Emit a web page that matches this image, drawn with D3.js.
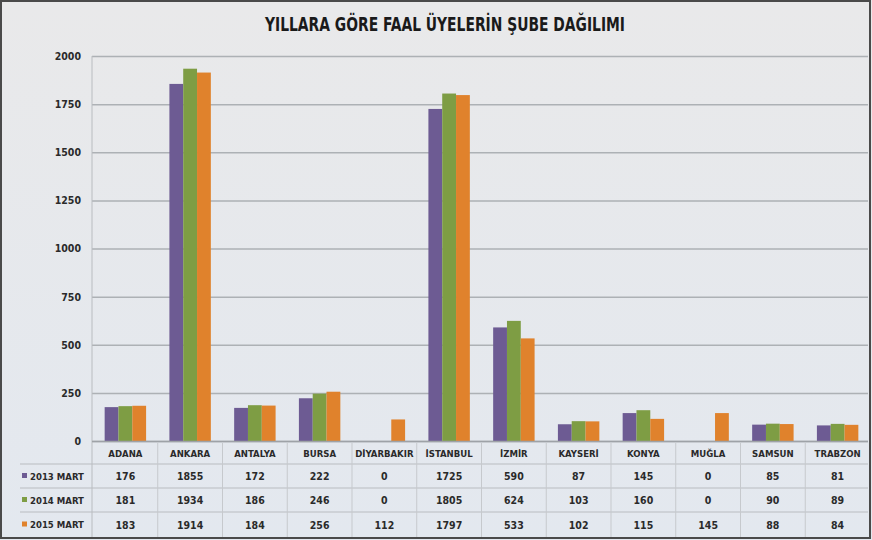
<!DOCTYPE html>
<html><head><meta charset="utf-8">
<script src="https://cdn.jsdelivr.net/npm/d3@7/dist/d3.min.js"></script>
<style>
html,body{margin:0;padding:0;background:#fff;}
svg{display:block;}
text{font-family:"Liberation Sans Narrow","DejaVu Sans Condensed","Roboto Condensed",sans-serif;}
</style></head><body>
<svg id="c" width="872" height="540"></svg>
<script>
const title = "YILLARA GÖRE FAAL ÜYELERİN ŞUBE DAĞILIMI";
const categories = ["ADANA","ANKARA","ANTALYA","BURSA","DİYARBAKIR","İSTANBUL","İZMİR","KAYSERİ","KONYA","MUĞLA","SAMSUN","TRABZON"];
const seriesNames = ["2013 MART","2014 MART","2015 MART"];
const s2013 = [176,1855,172,222,0,1725,590,87,145,0,85,81];
const s2014 = [181,1934,186,246,0,1805,624,103,160,0,90,89];
const s2015 = [183,1914,184,256,112,1797,533,102,115,145,88,84];
const yTicks = [0,250,500,750,1000,1250,1500,1750,2000];
const colors = ["#6d5b93","#7e9d44","#e0822c"];

const series = [s2013,s2014,s2015];
const svg = d3.select("#c");
const W = 872, H = 540;

const defs = svg.append("defs");
const g = defs.append("linearGradient").attr("id","bg").attr("x1",0).attr("y1",0).attr("x2",0).attr("y2",1);
g.append("stop").attr("offset","0%").attr("stop-color","#e9e9ea");
g.append("stop").attr("offset","100%").attr("stop-color","#e3e8ef");
svg.append("rect").attr("x",0).attr("y",0).attr("width",W).attr("height",H).attr("fill","url(#bg)");

const x = d3.scaleBand().domain(categories).range([93,870]).paddingInner(0.36).paddingOuter(0.18);
const xs = d3.scaleBand().domain([0,1,2]).range([0,x.bandwidth()]).padding(0);
const y = d3.scaleLinear().domain([0,2000]).range([441,56]);

// gridlines
const yAxis = d3.axisLeft(y).tickValues(yTicks).tickSize(-(868-92)).tickFormat(d3.format("d"));
const ga = svg.append("g").attr("transform","translate(92,0)").call(yAxis);
ga.select(".domain").remove();
ga.selectAll(".tick line").attr("stroke","#adb1b5").attr("stroke-width",1.5);
ga.selectAll(".tick text").attr("x",-11).attr("fill","#2a2a2a").attr("font-size",10.5).attr("font-weight","bold");

// axis vertical line
svg.append("line").attr("x1",92).attr("x2",92).attr("y1",56).attr("y2",537).attr("stroke","#b9bcc0").attr("stroke-width",1);

// bars
categories.forEach((c,i)=>{
  series.forEach((s,k)=>{
    const v = s[i];
    if(v<=0) return;
    svg.append("rect")
      .attr("x", x(c)+xs(k)).attr("width", xs.bandwidth())
      .attr("y", y(v)).attr("height", y(0)-y(v))
      .attr("fill", colors[k]);
  });
});

// table
const rowTop = [441,464,488,512,537];
const tbl = svg.append("g");
rowTop.slice(1,4).forEach(yy=>{
  tbl.append("line").attr("x1",20).attr("x2",868).attr("y1",yy).attr("y2",yy).attr("stroke","#b9bcc0").attr("stroke-width",1);
});
tbl.append("line").attr("x1",92).attr("x2",868).attr("y1",441.5).attr("y2",441.5).attr("stroke","#9ea2a7").attr("stroke-width",1.5);
categories.forEach((c,i)=>{
  if(i===0) return;
  const xx = x(c) - x.step()*x.paddingInner()/2;
  tbl.append("line").attr("x1",xx).attr("x2",xx).attr("y1",443).attr("y2",537).attr("stroke","#c6c9cd").attr("stroke-width",1);
});
categories.forEach(c=>{
  tbl.append("text").attr("x",x(c)+x.bandwidth()/2).attr("y",(rowTop[0]+rowTop[1])/2+4)
    .attr("text-anchor","middle").attr("font-size",9.5).attr("font-weight","bold").attr("fill","#2a2a2a").text(c);
});
series.forEach((s,k)=>{
  const cy = (rowTop[k+1]+rowTop[k+2])/2;
  tbl.append("rect").attr("x",22).attr("y",cy-3).attr("width",5).attr("height",5).attr("fill",colors[k]);
  tbl.append("text").attr("x",30).attr("y",cy+3.5).attr("font-size",9.5).attr("font-weight","bold").attr("fill","#2a2a2a").text(seriesNames[k]);
  categories.forEach((c,i)=>{
    tbl.append("text").attr("x",x(c)+x.bandwidth()/2).attr("y",cy+4)
      .attr("text-anchor","middle").attr("font-size",10.5).attr("font-weight","bold").attr("fill","#2a2a2a").text(s[i]);
  });
});

// title
svg.append("text").attr("x",445).attr("y",31).attr("text-anchor","middle")
  .attr("font-size",19).attr("font-weight","bold").attr("fill","#1a1a1a")
  .attr("textLength",360).attr("lengthAdjust","spacingAndGlyphs").text(title);

// frame
svg.append("rect").attr("x",1).attr("y",1).attr("width",W-3).attr("height",H-3)
  .attr("fill","none").attr("stroke","#4a4a4a").attr("stroke-width",2);
</script>
</body></html>
